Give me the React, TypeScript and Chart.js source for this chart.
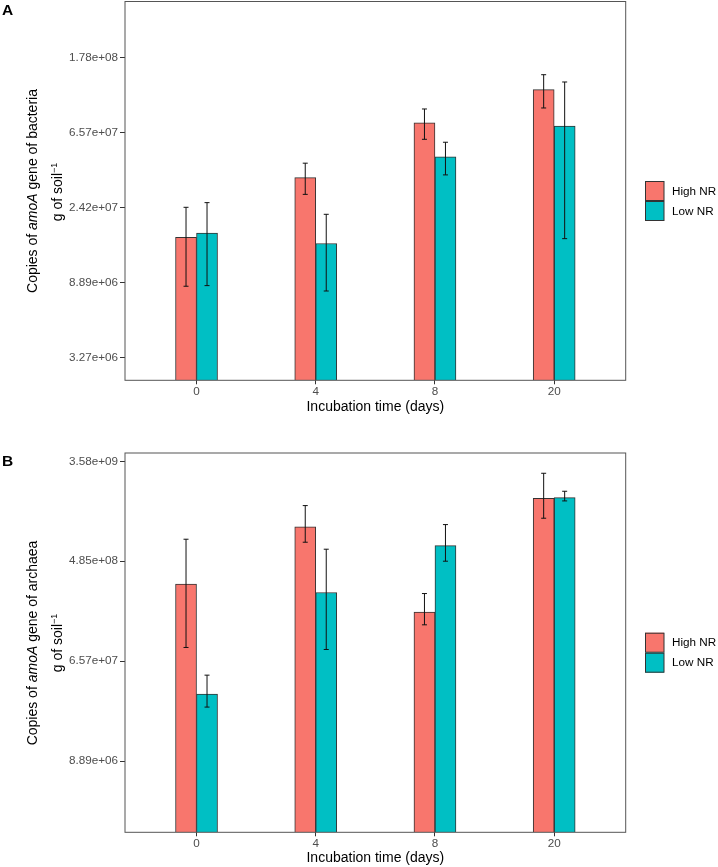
import React, { useEffect, useRef } from "react";
import { Chart, registerables } from "chart.js";

Chart.register(...registerables);

// ---------- data ----------
const days = ["0", "4", "8", "20"];
const seriesNames = ["High NR", "Low NR"];
const seriesColors = ["#F8766D", "#00BFC4"];

// Panel A: bacteria amoA copies
const bactHigh = [1.62e7, 3.59e7, 7.46e7, 1.16e8];
const bactLow = [1.71e7, 1.49e7, 4.74e7, 7.14e7];
const bactHighLo = [8.43e6, 2.87e7, 5.98e7, 9.08e7];
const bactHighHi = [2.415e7, 4.35e7, 8.96e7, 1.415e8];
const bactLowLo = [8.5e6, 7.91e6, 3.72e7, 1.59e7];
const bactLowHi = [2.57e7, 2.2e7, 5.75e7, 1.284e8];
const bactTicks = [3269017, 8886111, 24154953, 65659969, 178482301];
const bactMin = 2.405e6;
const bactMax = 3.756e8;

// Panel B: archaea amoA copies
const archHigh = [3.063e8, 9.644e8, 1.749e8, 1.71e9];
const archLow = [3.394e7, 2.592e8, 6.635e8, 1.733e9];
const archHighLo = [8.63e7, 7.095e8, 1.358e8, 1.147e9];
const archHighHi = [7.533e8, 1.477e9, 2.54e8, 2.82e9];
const archLowLo = [2.617e7, 8.29e7, 4.852e8, 1.622e9];
const archLowHi = [4.96e7, 6.168e8, 1.01e9, 1.968e9];
const archTicks = [8886111, 65659969, 485165195, 3584912846];
const archMin = 2.135e6;
const archMax = 4.232e9;

const FONT = "'Liberation Sans', Arial, Helvetica, sans-serif";

function fmtExp(v: number): string {
  return v.toExponential(2).replace(/e([+-])(\d)$/, "e$10$2");
}

const errorBarPlugin = {
  id: "errorBarsAndBorder",
  afterDatasetsDraw(chart: any) {
    const { ctx } = chart;
    const y = chart.scales.y;
    chart.data.datasets.forEach((ds: any, di: number) => {
      const meta = chart.getDatasetMeta(di);
      meta.data.forEach((bar: any, i: number) => {
        const x = bar.x;
        const yl = y.getPixelForValue(ds.errLo[i]);
        const yh = y.getPixelForValue(ds.errHi[i]);
        ctx.save();
        ctx.strokeStyle = "#111";
        ctx.lineWidth = 1;
        ctx.beginPath();
        ctx.moveTo(x, yl);
        ctx.lineTo(x, yh);
        ctx.moveTo(x - 2.5, yl);
        ctx.lineTo(x + 2.5, yl);
        ctx.moveTo(x - 2.5, yh);
        ctx.lineTo(x + 2.5, yh);
        ctx.stroke();
        ctx.restore();
      });
    });
    const { left, top, right, bottom } = chart.chartArea;
    ctx.save();
    ctx.strokeStyle = "#555";
    ctx.lineWidth = 1;
    ctx.strokeRect(left, top, right - left, bottom - top);
    ctx.restore();
  },
};

const legendPlugin = {
  id: "sideLegend",
  afterDraw(chart: any, _args: any, opts: any) {
    const { ctx } = chart;
    const top = opts.top as number;
    chart.data.datasets.forEach((ds: any, i: number) => {
      const y0 = top + i * 20;
      ctx.save();
      ctx.fillStyle = ds.backgroundColor;
      ctx.fillRect(645, y0, 19, 20);
      ctx.strokeStyle = "#333";
      ctx.lineWidth = 1;
      ctx.strokeRect(645.5, y0 + 0.5, 18.5, 19);
      ctx.fillStyle = "#000";
      ctx.font = `11.7px ${FONT}`;
      ctx.textBaseline = "middle";
      ctx.textAlign = "left";
      ctx.fillText(ds.label, 672, y0 + 10.5);
      ctx.restore();
    });
  },
};

type PanelProps = {
  high: number[];
  low: number[];
  highLo: number[];
  highHi: number[];
  lowLo: number[];
  lowHi: number[];
  ticks: number[];
  min: number;
  max: number;
  height: number;
  padTop: number;
  xAxisHeight: number;
  titlePadBottom: number;
  legendTop: number;
};

function Panel(p: PanelProps) {
  const ref = useRef<HTMLCanvasElement | null>(null);
  useEffect(() => {
    if (!ref.current) return;
    const chart = new Chart(ref.current, {
      type: "bar",
      data: {
        datasets: [
          {
            label: seriesNames[0],
            data: p.high.map((v, i) => ({ x: i, y: v })),
            backgroundColor: seriesColors[0],
            borderColor: "#333",
            borderWidth: 1,
            errLo: p.highLo,
            errHi: p.highHi,
          } as any,
          {
            label: seriesNames[1],
            data: p.low.map((v, i) => ({ x: i, y: v })),
            backgroundColor: seriesColors[1],
            borderColor: "#333",
            borderWidth: 1,
            errLo: p.lowLo,
            errHi: p.lowHi,
          } as any,
        ],
      },
      options: {
        animation: false,
        responsive: false,
        barThickness: 21,
        layout: { padding: { left: 0, right: 718 - 625.7, top: p.padTop, bottom: 0 } },
        plugins: {
          legend: { display: false },
          tooltip: { enabled: false },
          sideLegend: { top: p.legendTop },
        } as any,
        scales: {
          x: {
            type: "linear",
            min: -0.6,
            max: 3.6,
            offset: false,
            afterBuildTicks: (s: any) => {
              s.ticks = days.map((_, i) => ({ value: i }));
            },
            afterFit: (s: any) => {
              s.height = p.xAxisHeight;
              s.paddingLeft = 0;
              s.paddingRight = 0;
            },
            ticks: {
              callback: (v: any) => days[v as number] ?? "",
              color: "#4D4D4D",
              font: { family: FONT, size: 11.7 },
              padding: 0.5,
              autoSkip: false,
              maxRotation: 0,
            },
            grid: { offset: false, drawOnChartArea: false, tickLength: 4, tickColor: "#333", color: "#333" },
            border: { display: false },
            title: {
              display: true,
              text: "Incubation time (days)",
              color: "#000",
              font: { family: FONT, size: 14 },
              padding: { top: 0, bottom: p.titlePadBottom },
            },
          },
          y: {
            type: "logarithmic",
            min: p.min,
            max: p.max,
            afterBuildTicks: (s: any) => {
              s.ticks = p.ticks.map((v) => ({ value: v }));
            },
            afterFit: (s: any) => {
              s.width = 125;
              s.paddingTop = 0;
              s.paddingBottom = 0;
            },
            ticks: {
              callback: (v: any) => fmtExp(Number(v)),
              color: "#4D4D4D",
              font: { family: FONT, size: 11.7 },
              padding: 2,
              autoSkip: false,
            },
            grid: { drawOnChartArea: false, tickLength: 5, tickColor: "#333", color: "#333" },
            border: { display: false },
          },
        } as any,
      } as any,
      plugins: [errorBarPlugin, legendPlugin],
    });
    return () => chart.destroy();
  }, []);
  return <canvas ref={ref} width={718} height={p.height} style={{ display: "block" }} />;
}

function YTitle({ cy, organism }: { cy: number; organism: string }) {
  const base: React.CSSProperties = {
    position: "absolute",
    transform: "translate(-50%, -50%) rotate(-90deg)",
    whiteSpace: "nowrap",
    fontFamily: FONT,
    fontSize: 14,
    lineHeight: "16px",
    color: "#000",
  };
  return (
    <>
      <div style={{ ...base, left: 32.3, top: cy }}>
        Copies of <i>amoA</i> gene of {organism}
      </div>
      <div style={{ ...base, left: 56.7, top: cy + 0.5 }}>
        g of soil<sup style={{ fontSize: 9, verticalAlign: "5px", lineHeight: 0 }}>−1</sup>
      </div>
    </>
  );
}

export default function App() {
  useEffect(() => {
    document.body.style.margin = "0";
  }, []);
  const panelLabel: React.CSSProperties = {
    position: "absolute",
    left: 2,
    fontFamily: FONT,
    fontWeight: "bold",
    fontSize: 15.5,
    lineHeight: "16px",
    color: "#000",
  };
  return (
    <div style={{ position: "relative", width: 718, height: 867, background: "#fff", overflow: "hidden" }}>
      <div style={{ position: "absolute", left: 0, top: 0 }}>
        <Panel
          high={bactHigh}
          low={bactLow}
          highLo={bactHighLo}
          highHi={bactHighHi}
          lowLo={bactLowLo}
          lowHi={bactLowHi}
          ticks={bactTicks}
          min={bactMin}
          max={bactMax}
          height={420}
          padTop={1.5}
          xAxisHeight={39.7}
          titlePadBottom={4.9}
          legendTop={181}
        />
      </div>
      <div style={{ position: "absolute", left: 0, top: 430 }}>
        <Panel
          high={archHigh}
          low={archLow}
          highLo={archHighLo}
          highHi={archHighHi}
          lowLo={archLowLo}
          lowHi={archLowHi}
          ticks={archTicks}
          min={archMin}
          max={archMax}
          height={437}
          padTop={23}
          xAxisHeight={34.7}
          titlePadBottom={0.9}
          legendTop={202.7}
        />
      </div>
      <div style={{ ...panelLabel, top: 1.5 }}>A</div>
      <div style={{ ...panelLabel, top: 453 }}>B</div>
      <YTitle cy={191} organism="bacteria" />
      <YTitle cy={642.7} organism="archaea" />
    </div>
  );
}
